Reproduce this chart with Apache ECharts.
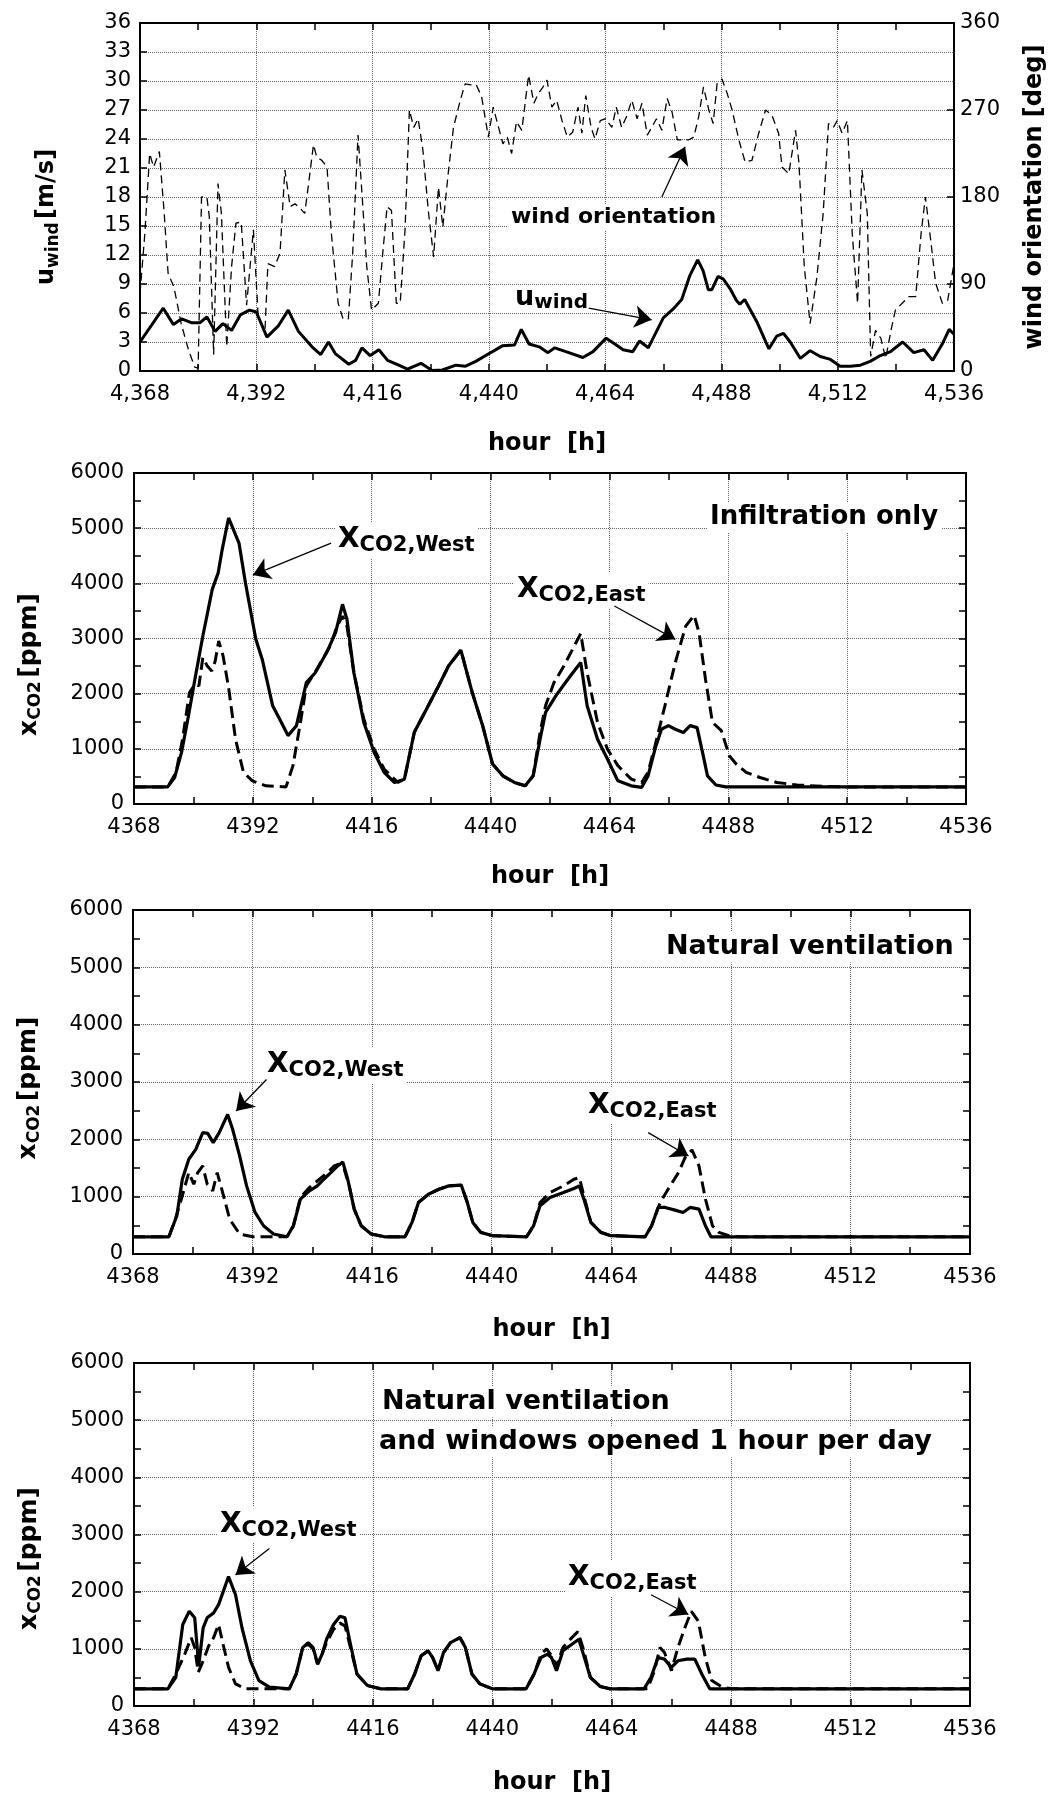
<!DOCTYPE html>
<html><head><meta charset="utf-8">
<script src="https://cdn.jsdelivr.net/npm/echarts@6/dist/echarts.min.js"></script>
<style>html,body{margin:0;padding:0;background:#fff}#c{width:1055px;height:1796px}</style>
</head><body><div id="c"></div><script>
// ---------------- DATA (hour, value) ----------------
const hourTicks = {min: 4368, max: 4536, interval: 24};

const uWind = [[4368,3.0],[4372.8,6.5],[4374.9,4.8],[4376.6,5.4],[4378.6,5.0],[4380.4,5.0],[4381.8,5.6],[4383.5,4.1],[4385.1,4.9],[4386.9,4.2],[4388.7,5.8],[4390.6,6.3],[4392,6.1],[4394.2,3.5],[4396.6,4.7],[4398.6,6.3],[4400.7,4.1],[4403.5,2.5],[4405.3,1.7],[4406.9,3.0],[4408.3,1.8],[4411.1,0.7],[4412.5,1.1],[4413.8,2.4],[4415.5,1.6],[4417.3,2.2],[4419.1,1.1],[4421.4,0.6],[4423.2,0.2],[4426,0.8],[4428.3,0.05],[4430.4,0.1],[4433.2,0.6],[4435.2,0.5],[4437.3,1.0],[4439,1.5],[4442.8,2.6],[4445.3,2.7],[4446.7,4.3],[4448.3,2.8],[4450.4,2.5],[4452.2,1.9],[4453.6,2.4],[4455.9,2.0],[4459.4,1.4],[4461.5,2.0],[4464.2,3.4],[4466,2.8],[4467.7,2.2],[4469.7,2.0],[4471.1,3.1],[4472.9,2.4],[4476,5.5],[4478,6.4],[4479.8,7.4],[4481.5,9.9],[4483.1,11.5],[4484.2,10.4],[4485.3,8.4],[4486,8.4],[4487.3,9.8],[4488.4,9.5],[4489.8,8.5],[4491.1,7.3],[4491.8,6.9],[4492.8,7.4],[4495.3,5.1],[4497.8,2.3],[4499.4,3.6],[4500.8,3.9],[4502.2,3.0],[4504.3,1.3],[4506.3,2.1],[4508.4,1.5],[4510.5,1.2],[4512.5,0.5],[4514.6,0.5],[4516.7,0.6],[4518.7,1.0],[4520.8,1.6],[4522.9,2.0],[4525.4,3.0],[4527.7,1.9],[4529.8,2.2],[4531.6,1.1],[4533.7,2.9],[4535,4.3],[4536,3.8]];

const windDir = [[4368,80],[4369,142],[4370,225],[4370.8,211],[4372,227],[4373,163],[4373.8,101],[4375,87],[4376.5,49],[4378,22],[4379.3,4],[4380,3],[4380.7,180],[4381.8,180],[4382.3,160],[4383.2,17],[4384.1,194],[4384.8,163],[4385.9,25],[4386.9,108],[4387.8,153],[4388.9,154],[4390,68],[4391.4,146],[4392.4,56],[4393.8,42],[4394.4,111],[4395.8,108],[4396.9,122],[4397.9,208],[4399,170],[4400,173],[4401.1,168],[4402,163],[4402.7,190],[4403.8,234],[4404.5,221],[4405.5,218],[4406.6,211],[4407.5,142],[4408.9,70],[4409.9,54],[4411,54],[4411.9,122],[4413,244],[4413.9,177],[4414.8,108],[4415.8,63],[4417.2,70],[4418.1,122],[4419,170],[4419.9,166],[4420.9,70],[4421.7,70],[4422.7,146],[4423.6,270],[4424.5,252],[4425.4,261],[4426.4,228],[4427.5,166],[4428.6,118],[4429.6,190],[4430.5,149],[4431.6,204],[4432.7,252],[4434.1,280],[4435.1,297],[4436.2,296],[4437.4,296],[4438.5,284],[4439.9,242],[4440.9,273],[4442,252],[4442.9,235],[4443.8,242],[4444.7,225],[4445.7,258],[4446.8,249],[4448.2,306],[4449.3,277],[4450.2,287],[4451.2,294],[4452,301],[4453,273],[4454,280],[4455.1,259],[4456.2,242],[4457.3,247],[4458.4,273],[4459.2,246],[4460,285],[4461.1,252],[4461.9,240],[4463,259],[4464.1,261],[4465.4,252],[4466.3,273],[4467.4,252],[4468.4,263],[4469.5,280],[4470.6,261],[4471.6,277],[4472.7,244],[4473.6,252],[4474.6,261],[4475.7,249],[4476.8,282],[4477.8,268],[4478.9,239],[4480.1,239],[4481.2,239],[4482.3,242],[4483.3,263],[4484.3,294],[4485.4,270],[4486.3,256],[4487.1,297],[4488.1,302],[4489.2,287],[4490.2,270],[4491.6,239],[4492.9,216],[4494.3,218],[4495.7,246],[4497.1,270],[4498.4,265],[4499.8,246],[4500.5,211],[4501.9,204],[4503.3,249],[4504,215],[4505.1,108],[4506.3,49],[4507.7,97],[4509,163],[4510.1,256],[4511.1,252],[4511.9,259],[4512.9,246],[4514,259],[4515,142],[4516.1,70],[4517,208],[4518.1,163],[4518.8,15],[4519.8,42],[4520.9,34],[4521.9,13],[4523,42],[4523.9,63],[4525.3,70],[4526.7,77],[4528.1,77],[4529.2,142],[4530.1,180],[4531.2,135],[4532.2,91],[4533.6,70],[4534.7,73],[4536,111]];

// Infiltration only
const westInfil = [[4368,310],[4374.8,310],[4376.2,480],[4377.6,935],[4379,1600],[4380.3,2260],[4381.9,3045],[4383.8,3890],[4385,4190],[4385.8,4610],[4387.1,5185],[4389.2,4730],[4390.5,4010],[4392.6,2985],[4393.9,2620],[4396,1780],[4397.4,1540],[4399.1,1240],[4400.8,1420],[4402.8,2200],[4404.6,2380],[4406.9,2745],[4408.7,3105],[4410.1,3620],[4411,3350],[4412.4,2380],[4414.4,1480],[4416.5,935],[4418.5,575],[4420.6,390],[4422.6,450],[4424.6,1300],[4426.7,1660],[4429.5,2140],[4431.5,2500],[4434,2790],[4436.3,2020],[4438.4,1420],[4440.4,725],[4442.5,510],[4444.8,390],[4447,330],[4448.6,510],[4450,1175],[4451.1,1660],[4453.4,1990],[4456.1,2320],[4458.2,2565],[4459.5,1780],[4461.6,1175],[4463.6,815],[4465.7,420],[4468.4,330],[4470.5,300],[4471.8,510],[4473.2,995],[4474.5,1355],[4475.9,1420],[4477.3,1355],[4478.9,1295],[4480.3,1420],[4481.7,1385],[4482.8,935],[4483.8,510],[4485.5,345],[4487.5,310],[4536,310]];
const eastInfil = [[4368,310],[4374.8,310],[4376.5,575],[4377.8,1175],[4379.2,2020],[4380.3,2170],[4381.1,2140],[4381.9,2655],[4382.8,2500],[4383.7,2410],[4384.4,2590],[4385.1,2955],[4386,2680],[4387.1,2110],[4388.5,1175],[4390.1,575],[4391.9,420],[4394.6,330],[4398.7,310],[4400.1,695],[4401.5,1420],[4402.8,2140],[4404.9,2440],[4407.6,2865],[4409,3225],[4410.1,3405],[4411,3225],[4412.4,2380],[4414.4,1540],[4416.5,995],[4418.5,635],[4421.3,390],[4422.6,450],[4424.6,1300],[4426.7,1660],[4429.5,2140],[4431.5,2500],[4434,2790],[4436.3,2020],[4438.4,1420],[4440.4,725],[4442.5,510],[4444.8,390],[4447,330],[4448.6,510],[4450,1300],[4451.1,1780],[4452.8,2200],[4454.8,2500],[4456.9,2865],[4458.2,3090],[4459.5,2380],[4461.6,1480],[4463.6,995],[4465.7,695],[4468.4,450],[4470.5,390],[4471.8,575],[4473.2,1055],[4475.2,1780],[4477.3,2565],[4479.4,3225],[4481.1,3420],[4482.1,3105],[4483.4,2260],[4484.8,1480],[4486.6,1330],[4488.2,875],[4489.6,725],[4491.6,575],[4494.4,480],[4497.8,390],[4501.9,345],[4507.3,320],[4511.4,310],[4536,310]];

// Natural ventilation
const westNat = [[4368,300],[4375.2,300],[4376.8,667],[4377.9,1304],[4379.2,1652],[4380.6,1826],[4382,2116],[4383,2104],[4384.1,1942],[4385.3,2116],[4387,2435],[4388,2174],[4389.4,1710],[4390.8,1188],[4392.5,725],[4394.2,493],[4396.2,348],[4398.9,300],[4400.2,493],[4401.6,957],[4403.4,1101],[4405,1188],[4406.3,1304],[4407.7,1420],[4409.1,1536],[4410.1,1606],[4411.1,1304],[4412.4,783],[4413.8,493],[4415.8,348],[4418.5,300],[4422.6,300],[4424,551],[4425.3,899],[4427.3,1043],[4429.4,1130],[4431.4,1188],[4433.9,1200],[4435.1,899],[4436.2,551],[4437.8,377],[4440.2,319],[4447,300],[4448.4,493],[4449.7,841],[4451.7,986],[4454.4,1072],[4456.5,1142],[4457.6,1188],[4458.5,957],[4459.9,551],[4461.9,377],[4463.9,319],[4470.8,300],[4472.1,493],[4473.4,812],[4474.8,812],[4476.8,765],[4478.4,725],[4479.8,812],[4481.6,783],[4482.9,493],[4484,300],[4536,300]];
const eastNat = [[4368,300],[4375.2,300],[4376.5,609],[4377.9,1015],[4379.2,1420],[4380.2,1217],[4381,1420],[4382,1536],[4382.9,1217],[4384,1101],[4384.9,1420],[4386,1072],[4387.4,609],[4389.4,348],[4392.1,300],[4398.9,300],[4400.2,493],[4401.6,986],[4403.4,1159],[4405,1275],[4407,1420],[4408.4,1536],[4409.3,1565],[4410.4,1478],[4411.4,1188],[4412.4,783],[4413.8,493],[4415.8,348],[4418.5,300],[4422.6,300],[4424,551],[4425.3,899],[4427.3,1043],[4429.4,1130],[4431.4,1188],[4433.9,1200],[4435.1,899],[4436.2,551],[4437.8,377],[4440.2,319],[4447,300],[4448.4,493],[4449.7,899],[4451.7,1072],[4454.4,1188],[4456.5,1304],[4457.6,1333],[4458.5,1015],[4459.9,551],[4461.9,377],[4463.9,319],[4470.8,300],[4472.1,493],[4473.8,899],[4475.4,1130],[4477.5,1420],[4478.8,1681],[4480.2,1815],[4481.6,1536],[4482.9,957],[4484.3,493],[4485.6,377],[4487.6,319],[4489.7,300],[4536,300]];

// Natural ventilation + windows opened 1 hour per day
const westWin = [[4368,300],[4374.8,300],[4376.4,502],[4377.8,1426],[4379.1,1657],[4380.2,1542],[4381,700],[4381.9,1369],[4382.7,1542],[4384,1629],[4385,1773],[4387,2264],[4388.4,1946],[4389.7,1369],[4391.4,791],[4393.1,445],[4395.2,329],[4399.2,300],[4400.6,560],[4401.9,1022],[4403,1109],[4404,1022],[4404.9,733],[4405.8,907],[4406.7,1167],[4408.1,1426],[4409.4,1571],[4410.4,1542],[4411.5,1080],[4412.8,560],[4414.9,358],[4417.6,300],[4423,300],[4424.4,560],[4425.7,878],[4427.1,965],[4428,849],[4429.1,618],[4430.2,936],[4431.6,1109],[4433.5,1196],[4434.6,1022],[4435.9,560],[4437.5,387],[4440,300],[4446.8,300],[4448.4,560],[4449.8,849],[4451.1,907],[4451.9,849],[4452.9,618],[4454.2,965],[4456,1080],[4457.4,1167],[4458.3,907],[4459.7,502],[4461.7,341],[4463.7,300],[4470.5,300],[4471.9,502],[4473.3,849],[4474.6,820],[4476,676],[4477.3,791],[4479.1,820],[4480.7,820],[4482.1,560],[4483.7,300],[4536,300]];
const eastWin = [[4368,300],[4374.8,300],[4376.4,560],[4378.2,907],[4379.5,1196],[4380.2,1022],[4380.9,589],[4381.9,791],[4383,1051],[4384,1196],[4385,1426],[4385.9,1080],[4387,676],[4388.4,387],[4390.4,300],[4399.2,300],[4400.6,560],[4401.9,1022],[4403,1080],[4404,1000],[4404.9,733],[4405.8,907],[4406.7,1109],[4408.1,1340],[4409.4,1450],[4410.4,1400],[4411.5,1022],[4412.8,560],[4414.9,358],[4417.6,300],[4423,300],[4424.4,560],[4425.7,878],[4427.1,965],[4428,849],[4429.1,618],[4430.2,936],[4431.6,1109],[4433.5,1196],[4434.6,1022],[4435.9,560],[4437.5,387],[4440,300],[4446.8,300],[4448.4,560],[4449.8,907],[4450.9,1000],[4451.9,880],[4452.9,700],[4454.2,1022],[4456,1196],[4457.2,1300],[4458.3,1000],[4459.7,502],[4461.7,341],[4463.7,300],[4471.2,300],[4472.6,618],[4473.7,1022],[4474.6,936],[4476,618],[4477.3,1022],[4478.7,1369],[4480,1657],[4481.4,1484],[4482.8,849],[4484.1,445],[4486.2,329],[4488.2,300],[4536,300]];

// ---------------- STYLE / LAYOUT ----------------
const FONT = 'DejaVu Sans';
const BLACK = '#000';
const grids = [
  {left: 140, top: 23, width: 822, height: 348},
  {left: 134, top: 473, width: 832, height: 331},
  {left: 133, top: 910, width: 837, height: 344},
  {left: 134, top: 1363, width: 836, height: 346}
];
const xNameGaps = [61, 61, 64, 65];
const yTitleShift = [20, 26, 6, 24];   // downward shift of y-axis titles (px)

const tickStyle = {lineStyle: {color: BLACK, width: 1.5}};
const gridLine = {show: true, lineStyle: {type: 'dotted', color: '#666', width: 1}};

const xAxis = [];
const yAxis = [];
grids.forEach((g, i) => {
  xAxis.push({
    type: 'value', gridIndex: i, min: hourTicks.min, max: hourTicks.max, interval: hourTicks.interval,
    position: 'bottom',
    name: 'hour  [h]', nameLocation: 'middle', nameGap: xNameGaps[i],
    nameTextStyle: {fontFamily: FONT, fontSize: 24, fontWeight: 'bold', color: BLACK},
    axisLine: {show: true, onZero: false, lineStyle: {color: BLACK, width: 2}},
    axisTick: Object.assign({show: true, inside: true, length: 7}, tickStyle),
    minorTick: Object.assign({show: true, splitNumber: 2, length: 7}, tickStyle),
    splitLine: gridLine,
    axisLabel: {fontFamily: FONT, fontSize: 21, color: BLACK, margin: 13,
      formatter: i === 0 ? (v => v.toLocaleString('en-US')) : (v => String(v))}
  });
  xAxis.push({
    type: 'value', gridIndex: i, min: hourTicks.min, max: hourTicks.max, interval: hourTicks.interval,
    position: 'top',
    axisLine: {show: true, onZero: false, lineStyle: {color: BLACK, width: 2}},
    axisTick: Object.assign({show: true, inside: true, length: 7}, tickStyle),
    minorTick: Object.assign({show: true, splitNumber: 2, length: 7}, tickStyle),
    splitLine: {show: false}, axisLabel: {show: false}
  });
});

// panel 1 y axes
yAxis.push({
  type: 'value', gridIndex: 0, min: 0, max: 36, interval: 3, position: 'left',
  name: '{m|u}{s|wind} {m|[m/s]}', nameLocation: 'middle', nameGap: 78, nameRotate: 90,
  nameTextStyle: {color: BLACK, padding: [0, 2 * yTitleShift[0], 0, 0], rich: {
    m: {fontFamily: FONT, fontSize: 24, fontWeight: 'bold', lineHeight: 30},
    s: {fontFamily: FONT, fontSize: 17, fontWeight: 'bold', lineHeight: 17, verticalAlign: 'bottom'}}},
  axisLine: {show: true, onZero: false, lineStyle: {color: BLACK, width: 2}},
  axisTick: Object.assign({show: true, inside: true, length: 7}, tickStyle),
  splitLine: gridLine,
  axisLabel: {fontFamily: FONT, fontSize: 21, color: BLACK, margin: 9, formatter: v => String(v)}
});
yAxis.push({
  type: 'value', gridIndex: 0, min: 0, max: 360, interval: 90, position: 'right',
  name: 'wind orientation [deg]', nameLocation: 'middle', nameGap: 69, nameRotate: 90,
  nameTextStyle: {fontFamily: FONT, fontSize: 24, fontWeight: 'bold', color: BLACK},
  axisLine: {show: true, onZero: false, lineStyle: {color: BLACK, width: 2}},
  axisTick: Object.assign({show: true, inside: true, length: 7}, tickStyle),
  splitLine: {show: false},
  axisLabel: {fontFamily: FONT, fontSize: 21, color: BLACK, margin: 6, formatter: v => String(v)}
});
// panels 2-4 y axes
for (let i = 1; i < 4; i++) {
  yAxis.push({
    type: 'value', gridIndex: i, min: 0, max: 6000, interval: 1000, position: 'left',
    name: '{m|x}{s|CO2} {m|[ppm]}', nameLocation: 'middle', nameGap: 90, nameRotate: 90,
    nameTextStyle: {color: BLACK, padding: [0, 2 * yTitleShift[i], 0, 0], rich: {
      m: {fontFamily: FONT, fontSize: 25, fontWeight: 'bold', lineHeight: 30},
      s: {fontFamily: FONT, fontSize: 17, fontWeight: 'bold', lineHeight: 17, verticalAlign: 'bottom'}}},
    axisLine: {show: true, onZero: false, lineStyle: {color: BLACK, width: 2}},
    axisTick: Object.assign({show: true, inside: true, length: 7}, tickStyle),
    minorTick: Object.assign({show: true, splitNumber: 2, length: 7}, tickStyle),
    splitLine: gridLine,
    axisLabel: {fontFamily: FONT, fontSize: 21, color: BLACK, margin: 10, formatter: v => String(v)}
  });
  yAxis.push({
    type: 'value', gridIndex: i, min: 0, max: 6000, interval: 1000, position: 'right',
    axisLine: {show: true, onZero: false, lineStyle: {color: BLACK, width: 2}},
    axisTick: Object.assign({show: true, inside: true, length: 7}, tickStyle),
    minorTick: Object.assign({show: true, splitNumber: 2, length: 7}, tickStyle),
    splitLine: {show: false}, axisLabel: {show: false}
  });
}

function arrow(from, to) {
  return {
    silent: true, symbol: ['none', 'arrow'], symbolSize: 17, animation: false,
    lineStyle: {color: BLACK, width: 1.3, type: 'solid'}, label: {show: false},
    data: [[{coord: from}, {coord: to}]]
  };
}
function line(data, xi, yi, dashed, width, dash, markLine) {
  const s = {
    type: 'line', data: data, xAxisIndex: xi, yAxisIndex: yi, showSymbol: false, symbol: 'none',
    animation: false, z: 3,
    lineStyle: {color: BLACK, width: width, type: dashed ? dash : 'solid'}
  };
  if (markLine) s.markLine = markLine;
  return s;
}

const series = [
  line(windDir, 0, 1, true, 1.3, [8, 5], arrow([4475.7, 180], [4480.5, 232])),
  line(uWind, 0, 0, false, 3, null, arrow([4460.6, 6.5], [4473.6, 5.3])),
  line(eastInfil, 2, 2, true, 3, [12, 6], arrow([4465, 3590], [4477.3, 2985])),
  line(westInfil, 2, 2, false, 3.2, null, arrow([4407.8, 4730], [4392, 4150])),
  line(eastNat, 4, 4, true, 3, [12, 6], arrow([4471.4, 2116], [4479.5, 1710])),
  line(westNat, 4, 4, false, 3.2, null, arrow([4394.8, 3043], [4388.7, 2493])),
  line(eastWin, 6, 6, true, 3, [12, 6], arrow([4471.9, 1946], [4479.4, 1600])),
  line(westWin, 6, 6, false, 3.2, null, arrow([4395.2, 2755], [4388.4, 2293]))
];

const xRich = {
  X: {fontFamily: FONT, fontSize: 28, fontWeight: 'bold', lineHeight: 32},
  s: {fontFamily: FONT, fontSize: 21, fontWeight: 'bold', lineHeight: 22, verticalAlign: 'bottom'}
};
function txt(x, y, text, size) {
  return {type: 'text', x: x, y: y, z: 1,
    style: {text: text, fill: BLACK, fontFamily: FONT, fontSize: size, fontWeight: 'bold',
      verticalAlign: 'middle', backgroundColor: '#fff', padding: [2, 3]}};
}
function xco2(x, y, sub) {
  return {type: 'text', x: x, y: y, z: 1,
    style: {text: '{X|X}{s|' + sub + '}', rich: xRich, fill: BLACK, verticalAlign: 'middle',
      backgroundColor: '#fff', padding: [2, 3]}};
}

const graphic = [
  txt(508, 217, 'wind orientation', 22),
  {type: 'text', x: 515, y: 298, z: 1,
    style: {text: '{u|u}{w|wind}', fill: BLACK, verticalAlign: 'middle', rich: {
      u: {fontFamily: FONT, fontSize: 27, fontWeight: 'bold', lineHeight: 30},
      w: {fontFamily: FONT, fontSize: 20, fontWeight: 'bold', lineHeight: 20, verticalAlign: 'bottom'}}}},
  txt(707, 517, 'Infiltration only', 26),
  xco2(335, 540, 'CO2,West'),
  xco2(514, 590, 'CO2,East'),
  txt(663, 947, 'Natural ventilation', 27),
  xco2(264, 1065, 'CO2,West'),
  xco2(585, 1106, 'CO2,East'),
  txt(379, 1402, 'Natural ventilation', 27),
  txt(376, 1442, 'and windows opened 1 hour per day', 27),
  xco2(217, 1525, 'CO2,West'),
  xco2(565, 1578, 'CO2,East')
];

const chart = echarts.init(document.getElementById('c'), null, {renderer: 'canvas'});
chart.setOption({
  backgroundColor: '#fff',
  animation: false,
  grid: grids.map(g => Object.assign({show: true, borderColor: BLACK, borderWidth: 2, backgroundColor: 'transparent', containLabel: false}, g)),
  xAxis: xAxis,
  yAxis: yAxis,
  series: series,
  graphic: graphic
});
</script></body></html>
